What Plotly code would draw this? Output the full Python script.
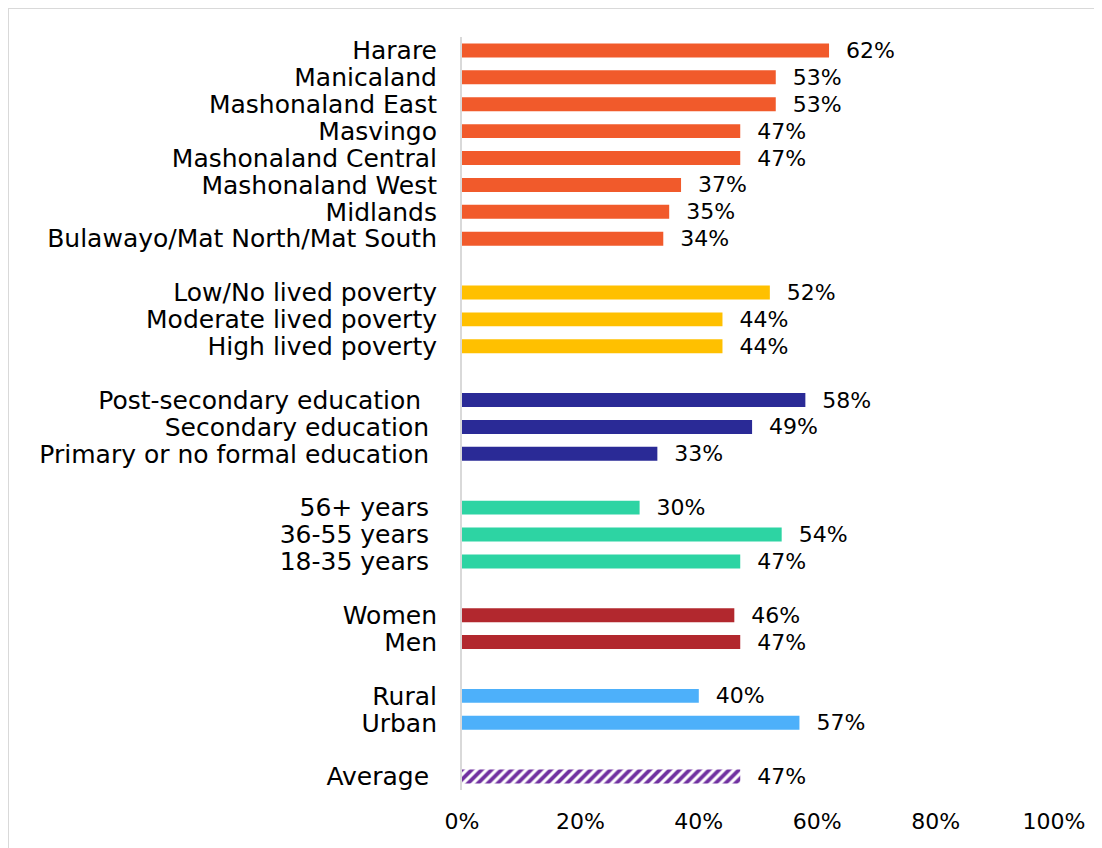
import plotly.graph_objects as go

NB = "\u00a0"

# groups: labels + values (%), top to bottom
region_labels = ["Harare", "Manicaland", "Mashonaland East", "Masvingo", "Mashonaland Central",
                 "Mashonaland West", "Midlands", "Bulawayo/Mat North/Mat South"]
region_values = [62, 53, 53, 47, 47, 37, 35, 34]

poverty_labels = ["Low/No lived poverty", "Moderate lived poverty", "High lived poverty"]
poverty_values = [52, 44, 44]

education_labels = ["Post-secondary education" + NB * 2, "Secondary education" + NB,
                    "Primary or no formal education" + NB]
education_values = [58, 49, 33]

age_labels = ["56+ years" + NB, "36-55 years" + NB, "18-35 years" + NB]
age_values = [30, 54, 47]

gender_labels = ["Women", "Men"]
gender_values = [46, 47]

location_labels = ["Rural", "Urban"]
location_values = [40, 57]

average_labels = ["Average" + NB]
average_values = [47]

x_ticks = [0, 20, 40, 60, 80, 100]
x_tick_text = ["0%", "20%", "40%", "60%", "80%", "100%"]

groups = [
    (region_labels, region_values, "#F15A2B"),
    (poverty_labels, poverty_values, "#FFC000"),
    (education_labels, education_values, "#2A2A96"),
    (age_labels, age_values, "#2DD4A3"),
    (gender_labels, gender_values, "#B2282E"),
    (location_labels, location_values, "#4DB0FA"),
]

# full category order with blank spacer rows between groups
categories = []
for i, (labels, _, _) in enumerate(groups):
    categories += labels
    categories.append(" " * (i + 1))
categories += average_labels

# the page body adds 8px, so the layout is shifted back by that much
L, T, W, H = 454, 29, 592, 753

fig = go.Figure()
for labels, values, color in groups:
    fig.add_trace(go.Bar(
        y=labels, x=values, orientation="h", width=0.52,
        marker=dict(color=color, line=dict(width=0)),
        text=[f"{NB}{NB}{v}%" for v in values], textposition="outside",
        constraintext="none",
        textfont=dict(size=22, color="#000000"), cliponaxis=False,
    ))

fig.add_trace(go.Bar(
    y=average_labels, x=average_values, orientation="h", width=0.52,
    marker=dict(color="white", line=dict(width=0),
                pattern=dict(shape="/", fgcolor="#7030A0", bgcolor="white",
                             fgopacity=1, size=7, solidity=0.55)),
    text=[f"{NB}{NB}{v}%" for v in average_values], textposition="outside",
    constraintext="none",
    textfont=dict(size=22, color="#000000"), cliponaxis=False,
))

# outer frame
fig.add_shape(type="rect", xref="paper", yref="paper",
              x0=-L / W, x1=(1120 - L) / W,
              y0=-(880 - T - H) / H, y1=1 + T / H,
              line=dict(color="#D9D9D9", width=2), layer="below")

fig.update_layout(
    width=1102, height=848,
    margin=dict(l=L, r=1102 - L - W, t=T, b=848 - T - H),
    plot_bgcolor="white", paper_bgcolor="white",
    showlegend=False, bargap=0.48,
    font=dict(family="DejaVu Sans", size=22, color="#000000"),
    xaxis=dict(range=[0, 100], tickvals=x_ticks, ticktext=x_tick_text,
               showgrid=False, zeroline=False, showline=False,
               ticks="", ticklabelstandoff=16, tickfont=dict(size=22)),
    yaxis=dict(categoryorder="array", categoryarray=categories, autorange="reversed",
               tickmode="array", tickvals=categories, ticktext=categories,
               showgrid=False, zeroline=False, showline=True, linecolor="#D9D9D9", linewidth=2,
               ticks="", ticklabelstandoff=18, tickfont=dict(size=25)),
)

fig.write_html("out.html")
